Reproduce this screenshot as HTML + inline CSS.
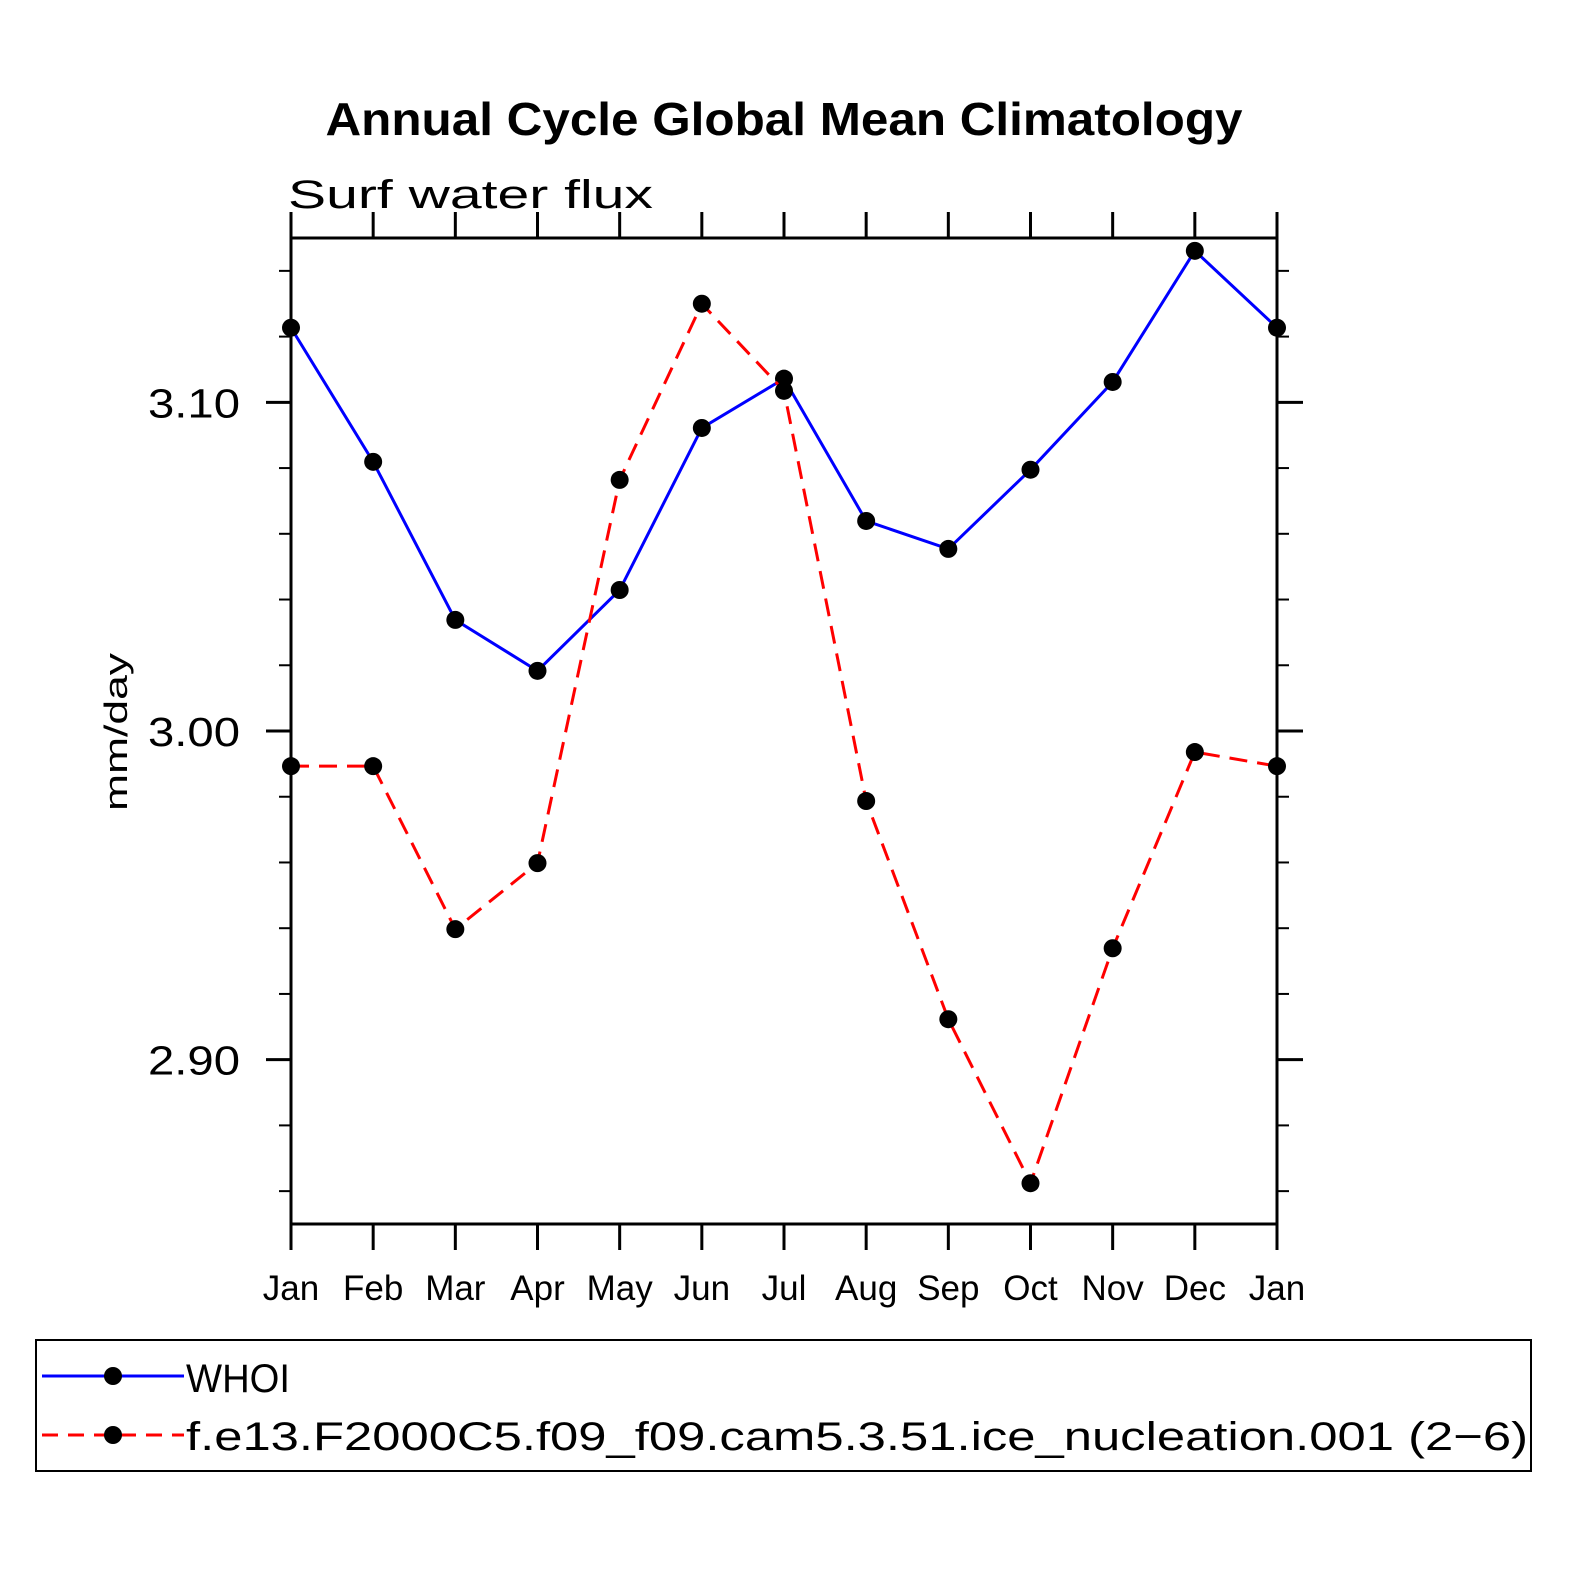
<!DOCTYPE html>
<html><head><meta charset="utf-8"><style>
html,body{margin:0;padding:0;background:#fff;}
svg{display:block;font-family:"Liberation Sans",sans-serif;}
</style></head><body>
<svg id="chart" width="1574" height="1574" viewBox="0 0 1574 1574" xmlns="http://www.w3.org/2000/svg">
<text x="784" y="135" text-anchor="middle" font-size="46" font-weight="bold" textLength="917" lengthAdjust="spacingAndGlyphs">Annual Cycle Global Mean Climatology</text>
<text x="288" y="208" font-size="40" textLength="365" lengthAdjust="spacingAndGlyphs">Surf  water  flux</text>
<text transform="translate(127,732) rotate(-90)" text-anchor="middle" font-size="32" textLength="158" lengthAdjust="spacingAndGlyphs">mm/day</text>
<g id="axes"></g>
<g id="series"></g>
<rect x="36" y="1340" width="1495" height="131" fill="none" stroke="#000" stroke-width="2"/>
<g>
<line x1="42" y1="1376" x2="184" y2="1376" stroke="#00f" stroke-width="3"/>
<circle cx="113" cy="1376" r="9" fill="#000"/>
<text x="186" y="1392" font-size="40" textLength="104" lengthAdjust="spacingAndGlyphs">WHOI</text>
</g>
<g>
<line x1="42" y1="1435" x2="184" y2="1435" stroke="#f00" stroke-width="3" stroke-dasharray="16,10"/>
<circle cx="113" cy="1435" r="9" fill="#000"/>
<text x="186" y="1450" font-size="40" textLength="1342" lengthAdjust="spacingAndGlyphs">f.e13.F2000C5.f09_f09.cam5.3.51.ice_nucleation.001 (2−6)</text>
</g>
</svg>
<script>
const months = ["Jan","Feb","Mar","Apr","May","Jun","Jul","Aug","Sep","Oct","Nov","Dec","Jan"];
const whoi = [3.1227,3.0819,3.0338,3.0183,3.0429,3.0922,3.1072,3.0639,3.0554,3.0795,3.1062,3.1461,3.1227];
const model = [2.9893,2.9893,2.9397,2.9598,3.0764,3.1300,3.1035,2.9787,2.9123,2.8624,2.9339,2.9936,2.9893];
const yTicks = [2.90,3.00,3.10];
const yTickLabels = ["2.90","3.00","3.10"];
const yMinorTicks = [2.86,2.88,2.92,2.94,2.96,2.98,3.02,3.04,3.06,3.08,3.12,3.14];
const Y0=2.85, Y1=3.15;
const L=291,R=1277,T=238,B=1224;
const NS="http://www.w3.org/2000/svg";
function xs(i){return L+(R-L)*i/(months.length-1);}
function ys(v){return B-(v-Y0)/(Y1-Y0)*(B-T);}
function mk(tag,attrs,parent){const e=document.createElementNS(NS,tag);for(const k in attrs)e.setAttribute(k,attrs[k]);parent.appendChild(e);return e;}
const ax=document.getElementById('axes');
const frame=mk('rect',{x:L,y:T,width:R-L,height:B-T,fill:'none',stroke:'#000','stroke-width':3},ax);


months.forEach((m,i)=>{
  const x=xs(i);
  mk('line',{x1:x,y1:B,x2:x,y2:B+26,stroke:'#000','stroke-width':3},ax);
  mk('line',{x1:x,y1:T,x2:x,y2:T-26,stroke:'#000','stroke-width':3},ax);
  const t=mk('text',{x:x,y:1300,'text-anchor':'middle','font-size':35},ax);
  t.textContent=m;
  
  
});
yTicks.forEach((v,i)=>{
  const y=ys(v);
  mk('line',{x1:L-25,y1:y,x2:L,y2:y,stroke:'#000','stroke-width':3},ax);
  mk('line',{x1:R,y1:y,x2:R+26,y2:y,stroke:'#000','stroke-width':3},ax);
  const t=mk('text',{x:240,y:y+15,'text-anchor':'end','font-size':41,textLength:92,lengthAdjust:'spacingAndGlyphs'},ax);
  t.textContent=yTickLabels[i];
  
  
});
yMinorTicks.forEach(v=>{
  const y=ys(v);
  mk('line',{x1:L-12,y1:y,x2:L,y2:y,stroke:'#000','stroke-width':2},ax);
  mk('line',{x1:R,y1:y,x2:R+12,y2:y,stroke:'#000','stroke-width':2},ax);
});
const sg=document.getElementById('series');
function drawSeries(vals,color,dash,name){
  const g=mk('g',{},sg);
  
  
  const pts=vals.map((v,i)=>xs(i)+','+ys(v)).join(' ');
  const a={points:pts,fill:'none',stroke:color,'stroke-width':3};
  if(dash)a['stroke-dasharray']=dash;
  mk('polyline',a,g);
  vals.forEach((v,i)=>{
    const c=mk('circle',{cx:xs(i),cy:ys(v),r:9,fill:'#000'},g);
    
    
  });
}
drawSeries(whoi,'#00f',null,'whoi-line');
drawSeries(model,'#f00','18,10','model-line');
</script>
</body></html>
